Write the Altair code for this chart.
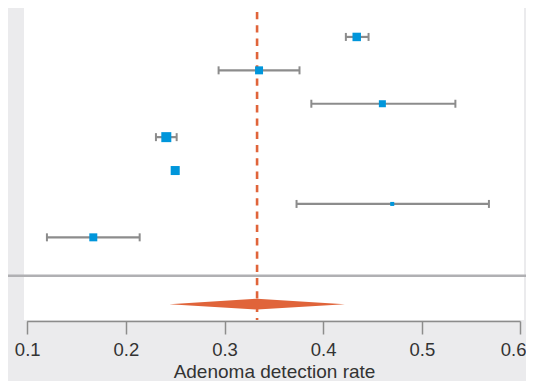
import altair as alt
import pandas as pd

# ---- data ----
rows = [1, 2, 3, 4, 5, 6, 7]
estimates = [0.434, 0.335, 0.460, 0.241, 0.250, 0.470, 0.167]
lower = [0.423, 0.294, 0.388, 0.2305, 0.2475, 0.373, 0.120]
upper = [0.446, 0.376, 0.534, 0.2515, 0.2530, 0.568, 0.214]
weights = [16.1, 14.3, 11.0, 22.4, 18.2, 3.6, 14.3]

pooled_est = 0.333
pooled_lower = 0.244
pooled_upper = 0.422
pooled_row = 9
separator_row = 8.15

tick_values = [0.1, 0.2, 0.3, 0.4, 0.5, 0.6]
x_title = "Adenoma detection rate"

# ---- tables ----
studies = pd.DataFrame({"row": rows, "est": estimates, "lo": lower,
                        "hi": upper, "w": weights})
caps = pd.DataFrame({"row": rows * 2, "x": lower + upper})
dh = 0.16
diamond = pd.DataFrame({"x": [pooled_lower, pooled_est, pooled_upper],
                        "yt": [pooled_row, pooled_row - dh, pooled_row],
                        "yb": [pooled_row, pooled_row + dh, pooled_row]})
pooled = pd.DataFrame({"x": [pooled_est]})
sep = pd.DataFrame({"row": [separator_row]})
axis_line = pd.DataFrame({"a": [tick_values[0]], "b": [tick_values[-1]]})

W, H = 500, 312
GRAY = "#8c8c8c"
RED = "#e0643a"
BLUE = "#0096db"
TXT = "#333333"
FONT = "Liberation Sans"

xs = alt.Scale(domain=[0.09676, 0.60355], nice=False, zero=False)
ys = alt.Scale(domain=[0.1335, 9.475], reverse=True, nice=False, zero=False)
last_label = "datum.value > 0.55"
xaxis = alt.Axis(values=tick_values, format=".1f", domain=False, grid=False,
                 tickSize=13, tickWidth=1.5, tickColor=GRAY, offset=1,
                 labelFont=FONT, labelFontSize=18.5, labelColor=TXT,
                 labelPadding=6.5, labelFlush=False, labelOverlap=False,
                 labelAlign={"condition": {"test": last_label, "value": "right"},
                             "value": "center"},
                 labelOffset={"condition": {"test": last_label, "value": 5.5},
                              "value": 0},
                 title=x_title, titleFont=FONT, titleFontSize=19,
                 titleFontWeight="normal", titleColor=TXT, titlePadding=3)


def X(field):
    return alt.X(field, type="quantitative", scale=xs, axis=xaxis)


def Y(field):
    return alt.Y(field, type="quantitative", scale=ys, axis=None)


sep_layer = alt.Chart(sep).mark_rule(color="#b0b0b3", strokeWidth=2.5).encode(
    x=alt.value(-16), x2=alt.value(W + 2), y=Y("row"))

dash_layer = alt.Chart(pooled).mark_rule(
    color=RED, strokeWidth=2.6, strokeDash=[7.3, 6]).encode(
    x=X("x"), y=alt.value(4), y2=alt.value(H))

diamond_layer = alt.Chart(diamond).mark_area(
    color=RED, opacity=1, orient="vertical").encode(
    x=X("x"), y=Y("yt"), y2="yb")

ci_layer = alt.Chart(studies).mark_rule(color=GRAY, strokeWidth=2.2).encode(
    x=X("lo"), x2="hi", y=Y("row"))

cap_layer = alt.Chart(caps).mark_tick(
    color=GRAY, orient="vertical", size=8, thickness=2, opacity=1).encode(
    x=X("x"), y=Y("row"))

pt_layer = alt.Chart(studies).mark_square(
    color=BLUE, filled=True, opacity=1).encode(
    x=X("est"), y=Y("row"),
    size=alt.Size("w", type="quantitative",
                  scale=alt.Scale(domain=[0, 22.4], range=[0, 100]),
                  legend=None))

axis_layer = alt.Chart(axis_line).mark_rule(color=GRAY, strokeWidth=1.5).encode(
    x=X("a"), x2="b", y=alt.value(H + 1.6))

chart = alt.layer(
    sep_layer, dash_layer, diamond_layer, ci_layer, cap_layer, pt_layer,
    axis_layer
).properties(
    width=W, height=H,
    autosize=alt.AutoSizeParams(type="none"),
    padding={"left": 16, "top": 0, "right": 2, "bottom": 61},
    background="#ebebed",
).configure_view(stroke=None, fill="white")

chart.save("out.html", embed_options={"renderer": "svg", "actions": False})
